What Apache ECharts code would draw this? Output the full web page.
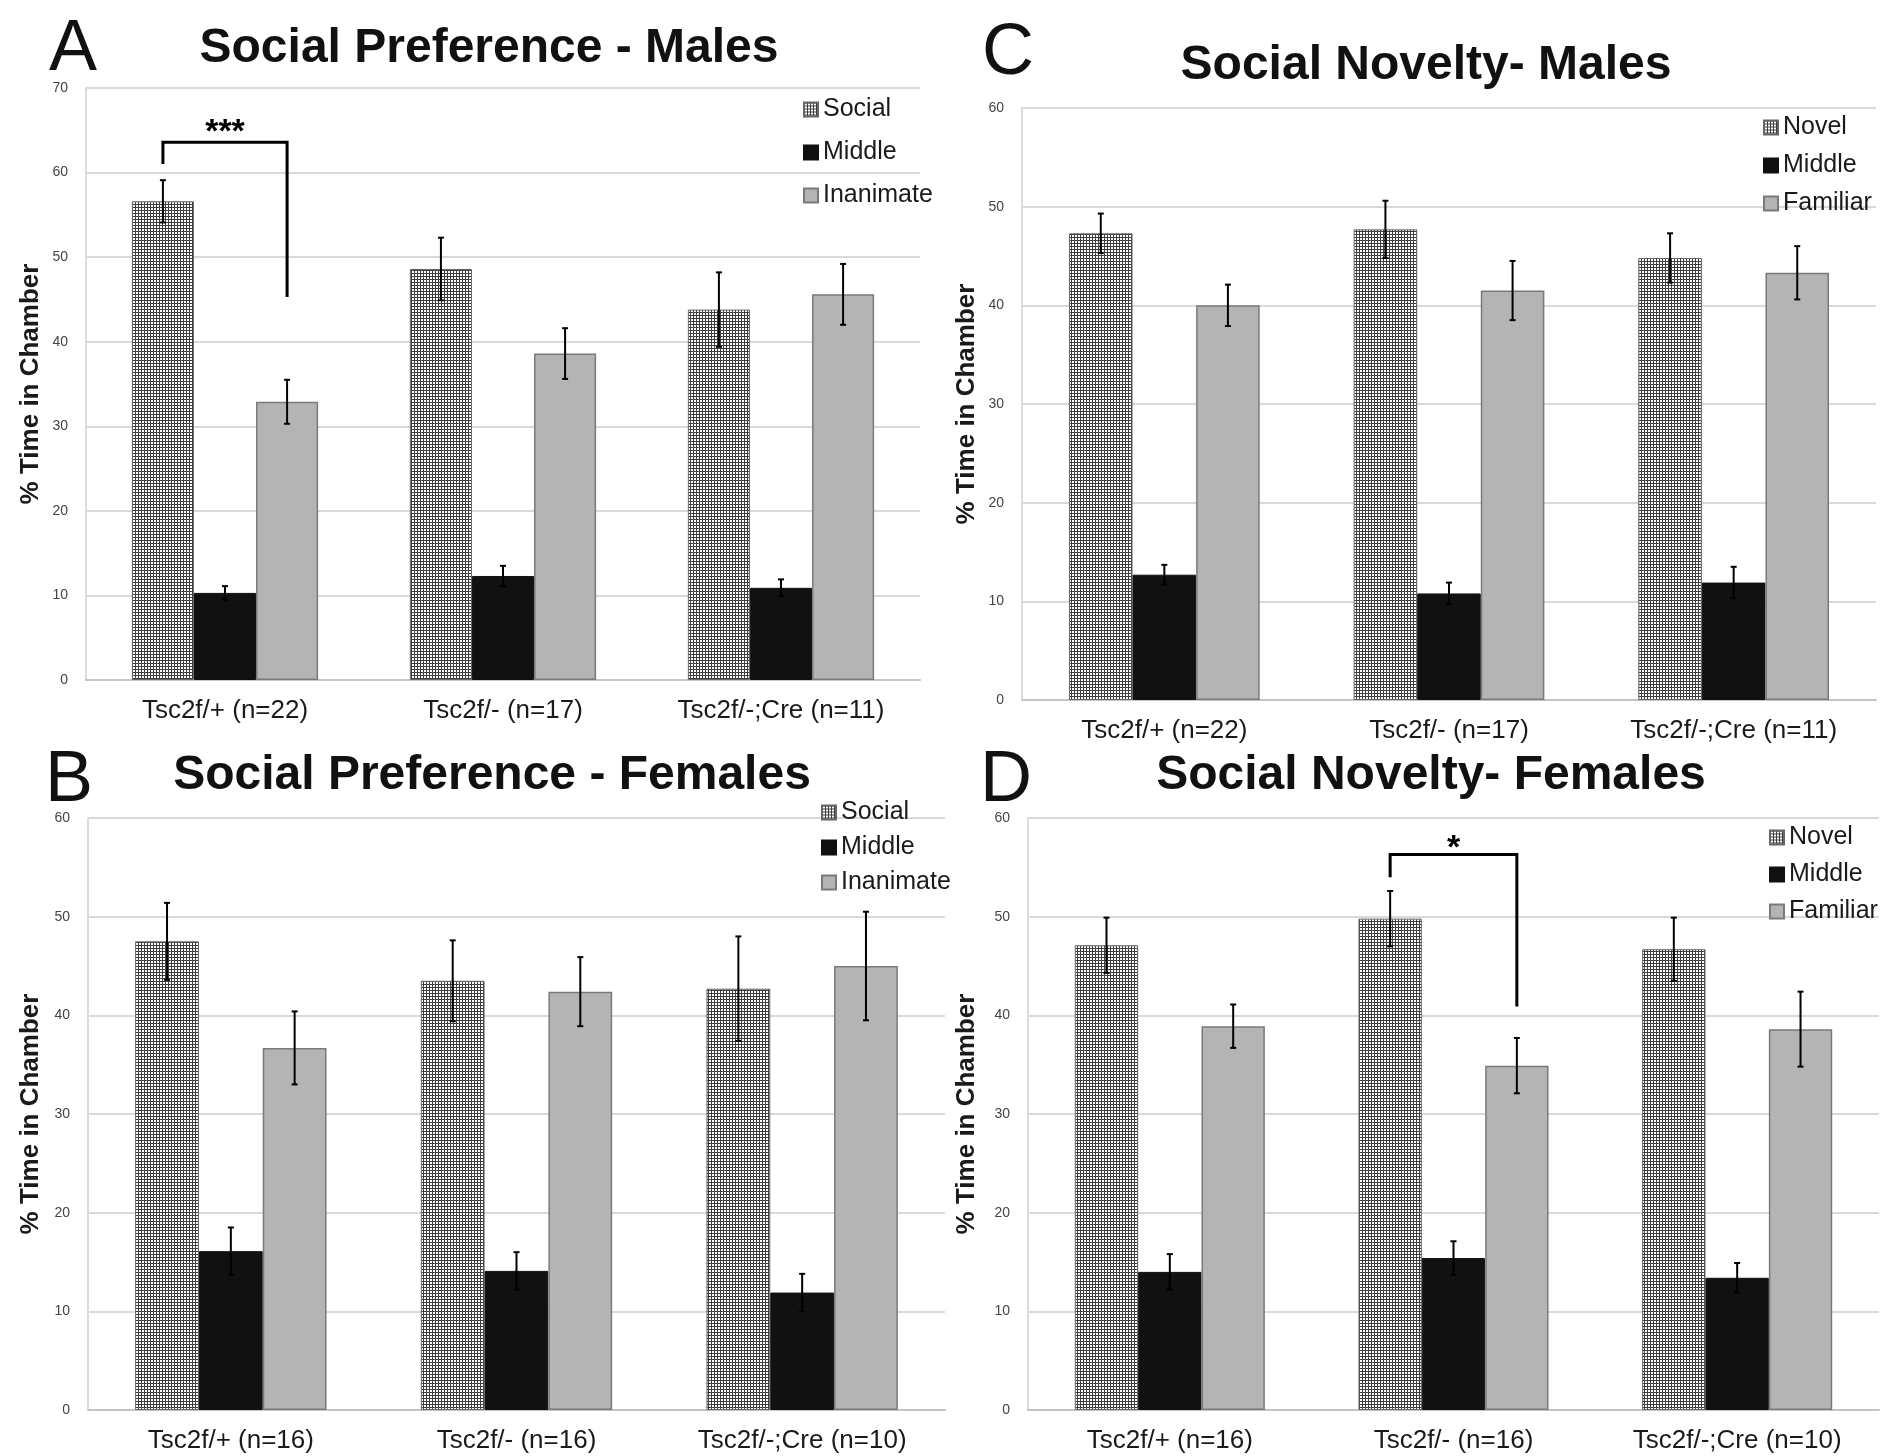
<!DOCTYPE html>
<html>
<head>
<meta charset="utf-8">
<script src="https://cdn.jsdelivr.net/npm/echarts@6/dist/echarts.min.js"></script>
<style>
html,body{margin:0;padding:0;background:#fff;}
#chart{width:1887px;height:1456px;}
</style>
</head>
<body>
<div id="chart"></div>
<script>
// ---------- DATA ----------
const catsMale = ['Tsc2f/+ (n=22)', 'Tsc2f/- (n=17)', 'Tsc2f/-;Cre (n=11)'];
const catsFemale = ['Tsc2f/+ (n=16)', 'Tsc2f/- (n=16)', 'Tsc2f/-;Cre (n=10)'];

// Panel A - Social Preference - Males
const aSocial = [56.6, 48.6, 43.8];
const aSocialErr = [2.5, 3.7, 4.4];
const aMiddle = [10.3, 12.3, 10.9];
const aMiddleErr = [0.8, 1.2, 1.0];
const aInanimate = [32.9, 38.6, 45.6];
const aInanimateErr = [2.6, 3.0, 3.6];

// Panel B - Social Preference - Females
const bSocial = [47.5, 43.5, 42.7];
const bSocialErr = [3.9, 4.1, 5.3];
const bMiddle = [16.1, 14.1, 11.9];
const bMiddleErr = [2.4, 1.9, 1.9];
const bInanimate = [36.7, 42.4, 45.0];
const bInanimateErr = [3.7, 3.5, 5.5];

// Panel C - Social Novelty - Males
const cNovel = [47.3, 47.7, 44.8];
const cNovelErr = [2.0, 2.9, 2.5];
const cMiddle = [12.7, 10.8, 11.9];
const cMiddleErr = [1.0, 1.1, 1.6];
const cFamiliar = [40.0, 41.5, 43.3];
const cFamiliarErr = [2.1, 3.0, 2.7];

// Panel D - Social Novelty - Females
const dNovel = [47.1, 49.8, 46.7];
const dNovelErr = [2.8, 2.8, 3.2];
const dMiddle = [14.0, 15.4, 13.4];
const dMiddleErr = [1.8, 1.7, 1.5];
const dFamiliar = [38.9, 34.9, 38.6];
const dFamiliarErr = [2.2, 2.8, 3.8];

// significance brackets: [category, fromBar, toBar, leftBottom, top, rightBottom, starY]
const bracketA = [0, 0, 2, 61.0, 63.6, 45.3, 64.7];
const bracketAText = '***';
const bracketD = [1, 0, 2, 54.0, 56.3, 40.9, 56.9];
const bracketDText = '*';

const yMaxA = 70, yMaxOther = 60, yStep = 10;
const yAxisName = '% Time in Chamber';

// ---------- STYLE HELPERS ----------
function makePattern() {
  const c = document.createElement('canvas');
  c.width = 3; c.height = 3;
  const g = c.getContext('2d');
  g.fillStyle = '#ffffff'; g.fillRect(0, 0, 3, 3);
  g.fillStyle = '#3e3e3e';
  g.fillRect(0, 0, 3, 1);
  g.fillRect(0, 0, 1, 3);
  return c;
}
const pat = { image: makePattern(), repeat: 'repeat' };
const FONT = '"Liberation Sans", Arial, Helvetica, sans-serif';
const GAP = 0.33;

const styleSocial = { color: pat, borderColor: '#666666', borderWidth: 1 };
const styleMiddle = { color: '#111111', borderColor: '#111111', borderWidth: 1 };
const styleInan = { color: '#b4b4b4', borderColor: '#7a7a7a', borderWidth: 1.5 };

const grids = [
  { left: 86, top: 88, width: 834, height: 592 },     // A
  { left: 1022, top: 108, width: 854, height: 592 },  // C
  { left: 88, top: 818, width: 857, height: 592 },    // B
  { left: 1028, top: 818, width: 851, height: 592 }   // D
];

function xAxisFor(i, cats) {
  return {
    type: 'category', gridIndex: i, data: cats,
    axisLine: { show: true, lineStyle: { color: '#c4c4c4', width: 2 } },
    axisTick: { show: false },
    axisLabel: { fontSize: 26, color: '#1a1a1a', margin: 18, fontFamily: FONT }
  };
}
function yAxisFor(i, max, gap) {
  return {
    type: 'value', gridIndex: i, min: 0, max: max, interval: yStep,
    name: yAxisName, nameLocation: 'middle', nameGap: gap, nameRotate: 90,
    nameTextStyle: { fontSize: 26, fontWeight: 'bold', color: '#1a1a1a', fontFamily: FONT },
    axisLine: { show: true, lineStyle: { color: '#dcdcdc', width: 2 } },
    axisTick: { show: false },
    splitLine: { show: true, lineStyle: { color: '#d9d9d9', width: 2 } },
    axisLabel: { fontSize: 14, color: '#444', margin: 18, fontFamily: FONT }
  };
}

function barSeries(name, data, idx, style) {
  return {
    type: 'bar', name: name, data: data, xAxisIndex: idx, yAxisIndex: idx,
    barGap: '0%', barCategoryGap: (GAP * 100) + '%',
    itemStyle: style, z: 2, silent: true
  };
}

function errSeries(idx, lists) {
  const data = [];
  lists.forEach(function (pair, b) {
    pair[0].forEach(function (v, c) { data.push([c, v, pair[1][c], b]); });
  });
  return {
    type: 'custom', xAxisIndex: idx, yAxisIndex: idx, data: data, z: 5, silent: true,
    renderItem: function (params, api) {
      const c = api.value(0), v = api.value(1), e = api.value(2), b = api.value(3);
      const band = api.size([1, 0])[0];
      const bw = band * (1 - GAP) / 3;
      const top = api.coord([c, v + e]);
      const bot = api.coord([c, v - e]);
      const x = top[0] + (b - 1) * bw;
      const cap = 3;
      const st = { stroke: '#000', lineWidth: 2 };
      return {
        type: 'group', children: [
          { type: 'line', shape: { x1: x, y1: top[1], x2: x, y2: bot[1] }, style: st },
          { type: 'line', shape: { x1: x - cap, y1: top[1], x2: x + cap, y2: top[1] }, style: st },
          { type: 'line', shape: { x1: x - cap, y1: bot[1], x2: x + cap, y2: bot[1] }, style: st }
        ]
      };
    }
  };
}

function bracketSeries(idx, br, text) {
  return {
    type: 'custom', xAxisIndex: idx, yAxisIndex: idx, data: [br], z: 6, silent: true,
    renderItem: function (params, api) {
      const c = api.value(0), f = api.value(1), t = api.value(2);
      const band = api.size([1, 0])[0];
      const bw = band * (1 - GAP) / 3;
      const base = api.coord([c, 0])[0];
      const xl = base + (f - 1) * bw, xr = base + (t - 1) * bw;
      const yl = api.coord([c, api.value(3)])[1];
      const yt = api.coord([c, api.value(4)])[1];
      const yr = api.coord([c, api.value(5)])[1];
      const ys = api.coord([c, api.value(6)])[1];
      return {
        type: 'group', children: [
          { type: 'polyline', shape: { points: [[xl, yl], [xl, yt], [xr, yt], [xr, yr]] },
            style: { stroke: '#000', lineWidth: 3, fill: null } },
          { type: 'text', x: (xl + xr) / 2, y: ys,
            style: { text: text, fontSize: 34, fontWeight: 'bold', fill: '#000', align: 'center', verticalAlign: 'middle', fontFamily: FONT } }
        ]
      };
    }
  };
}

function legendFor(left, top, gap, names) {
  return {
    orient: 'vertical', left: left, top: top, itemGap: gap, itemWidth: 14, itemHeight: 14,
    icon: 'rect', selectedMode: false, data: names,
    textStyle: { fontSize: 25, color: '#1a1a1a', fontFamily: FONT }
  };
}

function titleAt(text, cx, top) {
  return { text: text, left: cx, top: top, textAlign: 'center',
    textStyle: { fontSize: 48, fontWeight: 'bold', color: '#111', fontFamily: FONT, lineHeight: 48 } };
}
function letterAt(text, left, top) {
  return { text: text, left: left, top: top,
    textStyle: { fontSize: 72, fontWeight: 'normal', color: '#111', fontFamily: FONT, lineHeight: 72 } };
}

const option = {
  backgroundColor: '#ffffff',
  animation: false,
  title: [
    letterAt('A', 44, 9), titleAt('Social Preference - Males', 484, 20),
    letterAt('C', 977, 13), titleAt('Social Novelty- Males', 1421, 37),
    letterAt('B', 40, 740), titleAt('Social Preference - Females', 487, 747),
    letterAt('D', 975, 740), titleAt('Social Novelty- Females', 1426, 747)
  ],
  legend: [
    legendFor(798, 92, 18, ['Social', 'Middle', 'Inanimate']),
    legendFor(1758, 110, 13, ['Novel', 'Middle', 'Familiar']),
    legendFor(816, 795, 10, ['Social', 'Middle', 'Inanimate']),
    legendFor(1764, 820, 12, ['Novel', 'Middle', 'Familiar'])
  ],
  grid: grids,
  xAxis: [xAxisFor(0, catsMale), xAxisFor(1, catsMale), xAxisFor(2, catsFemale), xAxisFor(3, catsFemale)],
  yAxis: [yAxisFor(0, yMaxA, 42), yAxisFor(1, yMaxOther, 42), yAxisFor(2, yMaxOther, 44), yAxisFor(3, yMaxOther, 48)],
  series: [
    barSeries('Social', aSocial, 0, styleSocial),
    barSeries('Middle', aMiddle, 0, styleMiddle),
    barSeries('Inanimate', aInanimate, 0, styleInan),
    errSeries(0, [[aSocial, aSocialErr], [aMiddle, aMiddleErr], [aInanimate, aInanimateErr]]),
    bracketSeries(0, bracketA, bracketAText),

    barSeries('Novel', cNovel, 1, styleSocial),
    barSeries('Middle', cMiddle, 1, styleMiddle),
    barSeries('Familiar', cFamiliar, 1, styleInan),
    errSeries(1, [[cNovel, cNovelErr], [cMiddle, cMiddleErr], [cFamiliar, cFamiliarErr]]),

    barSeries('Social', bSocial, 2, styleSocial),
    barSeries('Middle', bMiddle, 2, styleMiddle),
    barSeries('Inanimate', bInanimate, 2, styleInan),
    errSeries(2, [[bSocial, bSocialErr], [bMiddle, bMiddleErr], [bInanimate, bInanimateErr]]),

    barSeries('Novel', dNovel, 3, styleSocial),
    barSeries('Middle', dMiddle, 3, styleMiddle),
    barSeries('Familiar', dFamiliar, 3, styleInan),
    errSeries(3, [[dNovel, dNovelErr], [dMiddle, dMiddleErr], [dFamiliar, dFamiliarErr]]),
    bracketSeries(3, bracketD, bracketDText)
  ]
};

const chart = echarts.init(document.getElementById('chart'), null, { renderer: 'canvas' });
chart.setOption(option);
</script>
</body>
</html>
